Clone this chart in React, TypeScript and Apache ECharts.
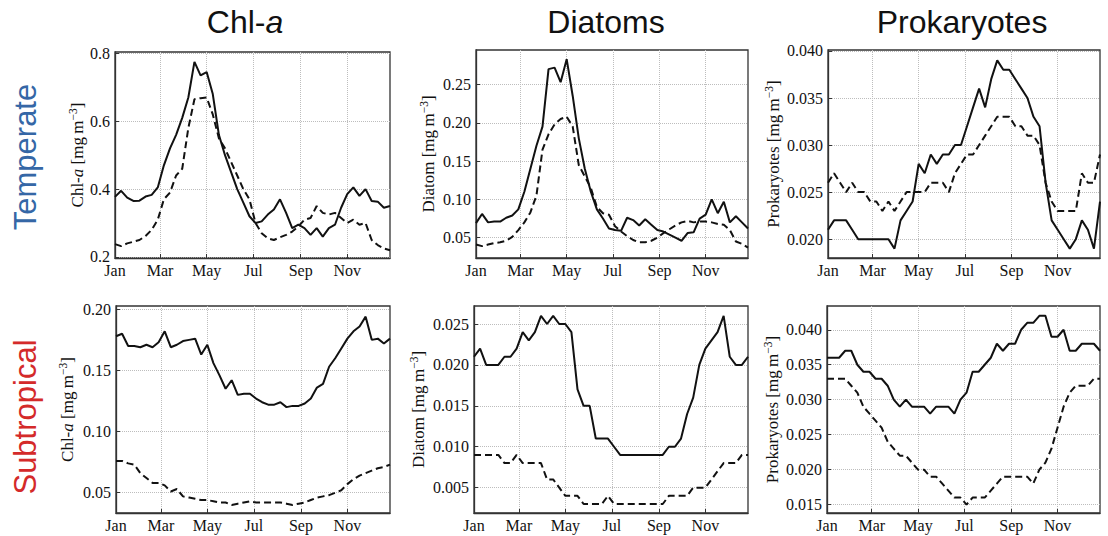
import React, { useEffect, useRef } from "react";
import * as echarts from "echarts";

// 46 eight-day composites through the year (day of year of each composite)
const DAYS = Array.from({ length: 46 }, (_, i) => i * 8);
const MONTH_TICKS = [0, 59, 120, 181, 243, 304];
const MONTH_LABELS = ["Jan", "Mar", "May", "Jul", "Sep", "Nov"];

const TEMP_CHL_SOLID = [0.377, 0.395, 0.375, 0.365, 0.366, 0.378, 0.383, 0.405, 0.47, 0.52, 0.56, 0.61, 0.67, 0.775, 0.735, 0.745, 0.68, 0.56, 0.5, 0.45, 0.4, 0.36, 0.32, 0.3, 0.305, 0.325, 0.34, 0.37, 0.33, 0.285, 0.295, 0.285, 0.265, 0.285, 0.26, 0.285, 0.295, 0.345, 0.385, 0.405, 0.38, 0.4, 0.365, 0.363, 0.345, 0.35];
const TEMP_CHL_DASHED = [0.238, 0.232, 0.24, 0.245, 0.25, 0.262, 0.28, 0.31, 0.37, 0.39, 0.44, 0.46, 0.58, 0.665, 0.668, 0.67, 0.62, 0.55, 0.52, 0.48, 0.44, 0.4, 0.37, 0.3, 0.27, 0.255, 0.25, 0.258, 0.265, 0.275, 0.29, 0.31, 0.315, 0.35, 0.33, 0.325, 0.33, 0.315, 0.3, 0.31, 0.295, 0.3, 0.25, 0.235, 0.225, 0.22];

const TEMP_DIA_SOLID = [0.069, 0.081, 0.07, 0.071, 0.071, 0.076, 0.079, 0.087, 0.11, 0.14, 0.17, 0.195, 0.27, 0.272, 0.253, 0.283, 0.235, 0.18, 0.14, 0.11, 0.087, 0.075, 0.062, 0.06, 0.059, 0.076, 0.073, 0.066, 0.074, 0.067, 0.06, 0.058, 0.054, 0.05, 0.046, 0.056, 0.057, 0.075, 0.08, 0.1, 0.082, 0.097, 0.07, 0.078, 0.07, 0.062];
const TEMP_DIA_DASHED = [0.041, 0.039, 0.041, 0.043, 0.044, 0.046, 0.051, 0.06, 0.07, 0.083, 0.105, 0.165, 0.185, 0.198, 0.205, 0.208, 0.195, 0.145, 0.13, 0.115, 0.09, 0.082, 0.08, 0.065, 0.058, 0.052, 0.047, 0.044, 0.044, 0.046, 0.05, 0.056, 0.061, 0.066, 0.07, 0.072, 0.07, 0.071, 0.071, 0.07, 0.068, 0.067, 0.06, 0.045, 0.042, 0.037];

const TEMP_PRO_SOLID = [0.021, 0.022, 0.022, 0.022, 0.021, 0.02, 0.02, 0.02, 0.02, 0.02, 0.02, 0.019, 0.022, 0.023, 0.024, 0.028, 0.027, 0.029, 0.028, 0.029, 0.029, 0.03, 0.03, 0.032, 0.034, 0.036, 0.034, 0.037, 0.039, 0.038, 0.038, 0.037, 0.036, 0.035, 0.033, 0.032, 0.026, 0.022, 0.021, 0.02, 0.019, 0.02, 0.022, 0.021, 0.019, 0.024];
const TEMP_PRO_DASHED = [0.026, 0.027, 0.026, 0.025, 0.026, 0.025, 0.025, 0.024, 0.024, 0.023, 0.024, 0.023, 0.024, 0.025, 0.025, 0.025, 0.025, 0.026, 0.026, 0.026, 0.025, 0.027, 0.028, 0.029, 0.029, 0.03, 0.031, 0.032, 0.033, 0.033, 0.033, 0.032, 0.032, 0.031, 0.031, 0.03, 0.026, 0.024, 0.023, 0.023, 0.023, 0.023, 0.027, 0.026, 0.026, 0.029];

const SUB_CHL_SOLID = [0.178, 0.18, 0.17, 0.17, 0.169, 0.171, 0.169, 0.173, 0.182, 0.169, 0.171, 0.174, 0.175, 0.176, 0.163, 0.171, 0.156, 0.146, 0.135, 0.142, 0.13, 0.131, 0.131, 0.127, 0.124, 0.122, 0.122, 0.124, 0.12, 0.121, 0.121, 0.123, 0.127, 0.136, 0.139, 0.153, 0.16, 0.168, 0.176, 0.182, 0.186, 0.194, 0.175, 0.176, 0.172, 0.176];
const SUB_CHL_DASHED = [0.076, 0.076, 0.074, 0.073, 0.066, 0.062, 0.058, 0.058, 0.056, 0.051, 0.053, 0.047, 0.046, 0.045, 0.044, 0.044, 0.043, 0.042, 0.042, 0.04, 0.041, 0.042, 0.043, 0.042, 0.042, 0.042, 0.042, 0.042, 0.041, 0.04, 0.041, 0.042, 0.044, 0.046, 0.047, 0.048, 0.05, 0.052, 0.057, 0.061, 0.064, 0.066, 0.068, 0.07, 0.071, 0.073];

const SUB_DIA_SOLID = [0.021, 0.022, 0.02, 0.02, 0.02, 0.021, 0.021, 0.022, 0.024, 0.023, 0.024, 0.026, 0.025, 0.026, 0.025, 0.025, 0.024, 0.017, 0.015, 0.015, 0.011, 0.011, 0.011, 0.01, 0.009, 0.009, 0.009, 0.009, 0.009, 0.009, 0.009, 0.009, 0.01, 0.01, 0.011, 0.014, 0.016, 0.02, 0.022, 0.023, 0.024, 0.026, 0.021, 0.02, 0.02, 0.021];
const SUB_DIA_DASHED = [0.009, 0.009, 0.009, 0.009, 0.009, 0.008, 0.008, 0.009, 0.008, 0.008, 0.008, 0.008, 0.006, 0.006, 0.005, 0.004, 0.004, 0.004, 0.003, 0.003, 0.003, 0.003, 0.004, 0.003, 0.003, 0.003, 0.003, 0.003, 0.003, 0.003, 0.003, 0.003, 0.004, 0.004, 0.004, 0.004, 0.005, 0.005, 0.005, 0.006, 0.007, 0.008, 0.008, 0.008, 0.009, 0.009];

const SUB_PRO_SOLID = [0.036, 0.036, 0.036, 0.037, 0.037, 0.035, 0.034, 0.034, 0.033, 0.033, 0.032, 0.03, 0.029, 0.03, 0.029, 0.029, 0.029, 0.028, 0.029, 0.029, 0.029, 0.028, 0.03, 0.031, 0.034, 0.034, 0.035, 0.036, 0.038, 0.037, 0.038, 0.038, 0.04, 0.041, 0.041, 0.042, 0.042, 0.039, 0.039, 0.04, 0.037, 0.037, 0.038, 0.038, 0.038, 0.037];
const SUB_PRO_DASHED = [0.033, 0.033, 0.033, 0.033, 0.032, 0.031, 0.029, 0.028, 0.027, 0.026, 0.024, 0.023, 0.022, 0.022, 0.021, 0.02, 0.02, 0.019, 0.019, 0.018, 0.017, 0.016, 0.016, 0.015, 0.016, 0.016, 0.016, 0.017, 0.018, 0.019, 0.019, 0.019, 0.019, 0.019, 0.018, 0.02, 0.021, 0.023, 0.026, 0.029, 0.031, 0.032, 0.032, 0.032, 0.033, 0.033];

const Y_TICKS_CHL_T = [0.2, 0.4, 0.6, 0.8];
const Y_TICKS_DIA_T = [0.05, 0.1, 0.15, 0.2, 0.25];
const Y_TICKS_PRO_T = [0.02, 0.025, 0.03, 0.035, 0.04];
const Y_TICKS_CHL_S = [0.05, 0.1, 0.15, 0.2];
const Y_TICKS_DIA_S = [0.005, 0.01, 0.015, 0.02, 0.025];
const Y_TICKS_PRO_S = [0.015, 0.02, 0.025, 0.03, 0.035, 0.04];

const COL_TITLES = ["Chl-a", "Diatoms", "Prokaryotes"];
const ROW_TITLES = ["Temperate", "Subtropical"];

const NAME_CHL = "{n|Chl-}{i|a}{n| [mg\u2009m}{s|\u22123}{n|]}";
const NAME_DIA = "{n|Diatom [mg\u2009m}{s|\u22123}{n|]}";
const NAME_PRO = "{n|Prokaryotes [mg\u2009m}{s|\u22123}{n|]}";

const SERIF = "'Liberation Serif', 'Times New Roman', serif";
const SANS = "'Liberation Sans', Arial, sans-serif";

const panels = [
  { grid: { left: 115, top: 52, width: 275, height: 206 }, range: [0.197, 0.804], ticks: Y_TICKS_CHL_T, dec: 1, name: NAME_CHL, gap: 28, solid: TEMP_CHL_SOLID, dashed: TEMP_CHL_DASHED },
  { grid: { left: 476, top: 50, width: 272, height: 208 }, range: [0.0235, 0.295], ticks: Y_TICKS_DIA_T, dec: 2, name: NAME_DIA, gap: 38, solid: TEMP_DIA_SOLID, dashed: TEMP_DIA_DASHED },
  { grid: { left: 828, top: 50, width: 272, height: 208 }, range: [0.018, 0.0401], ticks: Y_TICKS_PRO_T, dec: 3, name: NAME_PRO, gap: 45, solid: TEMP_PRO_SOLID, dashed: TEMP_PRO_DASHED },
  { grid: { left: 116, top: 306, width: 274, height: 207 }, range: [0.0334, 0.2027], ticks: Y_TICKS_CHL_S, dec: 2, name: NAME_CHL, gap: 39, solid: SUB_CHL_SOLID, dashed: SUB_CHL_DASHED },
  { grid: { left: 474, top: 306, width: 274, height: 207 }, range: [0.0019, 0.0272], ticks: Y_TICKS_DIA_S, dec: 3, name: NAME_DIA, gap: 46, solid: SUB_DIA_SOLID, dashed: SUB_DIA_DASHED },
  { grid: { left: 827, top: 306, width: 273, height: 207 }, range: [0.0138, 0.0434], ticks: Y_TICKS_PRO_S, dec: 3, name: NAME_PRO, gap: 45, solid: SUB_PRO_SOLID, dashed: SUB_PRO_DASHED },
];

const FRAME = "#333";

export default function App() {
  const ref = useRef<HTMLDivElement>(null);
  useEffect(() => {
    if (!ref.current) return;
    const chart = echarts.init(ref.current, undefined, { renderer: "svg" });
    const grids: any[] = [];
    const xAxes: any[] = [];
    const yAxes: any[] = [];
    const series: any[] = [];
    panels.forEach((p, k) => {
      grids.push({ ...p.grid, show: true, borderColor: FRAME, borderWidth: 1.3, backgroundColor: "transparent" });
      xAxes.push({
        type: "value",
        gridIndex: k,
        min: 0,
        max: 360,
        axisLine: { show: true, onZero: false, lineStyle: { color: FRAME, width: 1.3 } },
        axisTick: { show: true, inside: true, length: 4, customValues: MONTH_TICKS, lineStyle: { color: FRAME } },
        axisLabel: {
          customValues: MONTH_TICKS,
          formatter: (v: number) => MONTH_LABELS[MONTH_TICKS.indexOf(Math.round(v))] ?? "",
          fontFamily: SERIF,
          fontSize: 16,
          color: "#111",
          margin: 4,
        },
        splitLine: { show: true, lineStyle: { color: "#bdbdbd", type: "dotted", width: 1 } },
      });
      yAxes.push({
        type: "value",
        gridIndex: k,
        min: p.range[0],
        max: p.range[1],
        axisLine: { show: true, onZero: false, lineStyle: { color: FRAME, width: 1.3 } },
        axisTick: { show: true, inside: true, length: 4, customValues: p.ticks, lineStyle: { color: FRAME } },
        axisLabel: {
          customValues: p.ticks,
          formatter: (v: number) => v.toFixed(p.dec),
          fontFamily: SERIF,
          fontSize: 16,
          color: "#111",
          margin: 5,
        },
        splitLine: { show: true, lineStyle: { color: "#bdbdbd", type: "dotted", width: 1 } },
        name: p.name,
        nameLocation: "middle",
        nameGap: p.gap,
        nameRotate: 90,
        nameTextStyle: {
          fontFamily: SERIF,
          fontSize: 17,
          color: "#111",
          rich: {
            n: { fontFamily: SERIF, fontSize: 17, color: "#111", lineHeight: 20 },
            i: { fontFamily: SERIF, fontSize: 17, fontStyle: "italic", color: "#111", lineHeight: 20 },
            s: { fontFamily: SERIF, fontSize: 11.5, color: "#111", lineHeight: 11, verticalAlign: "top" },
          },
        },
      });
      series.push({
        type: "line",
        xAxisIndex: k,
        yAxisIndex: k,
        data: DAYS.map((d, i) => [d, p.solid[i]]),
        showSymbol: false,
        lineStyle: { color: "#111", width: 2 },
        silent: true,
        z: 3,
      });
      series.push({
        type: "line",
        xAxisIndex: k,
        yAxisIndex: k,
        data: DAYS.map((d, i) => [d, p.dashed[i]]),
        showSymbol: false,
        lineStyle: { color: "#111", width: 2, type: [7, 4] },
        silent: true,
        z: 3,
      });
    });

    const colX = [245, 606, 962];
    const rowY = [157, 417];
    const rowColors = ["#3567a6", "#d42a2a"];
    const graphic: any[] = [];
    COL_TITLES.forEach((t, c) => {
      const text = t === "Chl-a" ? "{n|Chl-}{i|a}" : `{n|${t}}`;
      graphic.push({
        type: "text",
        x: colX[c],
        y: 22,
        style: {
          text,
          align: "center",
          verticalAlign: "middle",
          fill: "#111",
          font: `32px ${SANS}`,
          rich: {
            n: { fontFamily: SANS, fontSize: 32, fill: "#111" },
            i: { fontFamily: SANS, fontSize: 32, fontStyle: "italic", fill: "#111" },
          },
        },
      });
    });
    ROW_TITLES.forEach((t, r) => {
      graphic.push({
        type: "text",
        x: 25,
        y: rowY[r],
        rotation: Math.PI / 2,
        style: {
          text: t,
          align: "center",
          verticalAlign: "middle",
          fill: rowColors[r],
          fontFamily: SANS,
          fontSize: 31,
        },
      });
    });

    chart.setOption({
      animation: false,
      backgroundColor: "#fff",
      grid: grids,
      xAxis: xAxes,
      yAxis: yAxes,
      series,
      graphic,
    });
    return () => chart.dispose();
  }, []);
  return (
    <div
      ref={ref}
      style={{ position: "absolute", left: 0, top: 0, width: 1108, height: 536 }}
    />
  );
}
